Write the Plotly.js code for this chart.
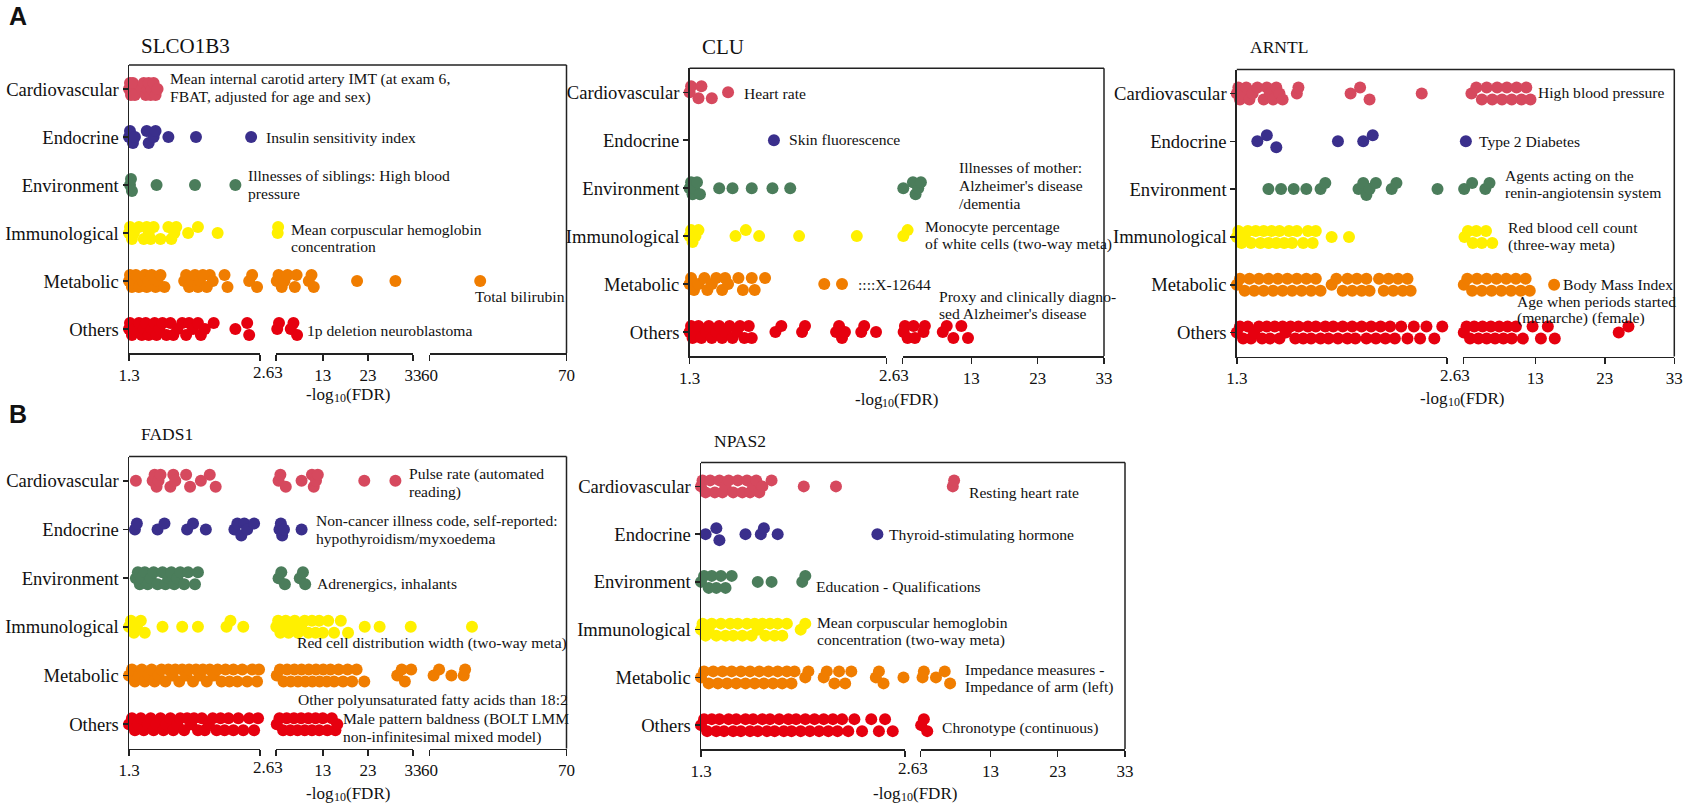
<!DOCTYPE html>
<html><head><meta charset="utf-8">
<script src="https://cdn.plot.ly/plotly-3.0.1.min.js"></script>
<style>html,body{margin:0;padding:0;background:#fff}#chart{width:1687px;height:808px}</style>
</head><body><div id="chart"></div>
<script>
// ---------- categories & colours ----------
const CATEGORIES = ['Cardiovascular','Endocrine','Environment','Immunological','Metabolic','Others'];
const CAT_COLORS = ['#d6495e','#3a2f8c','#4b7d5b','#fff000','#f07d00','#e6000f'];

// ---------- axis ticks ----------
const SEG1_TICKS = [1.3];            const SEG1_LABELS = ['1.3'];
const SEG2_TICKS = [13, 23, 33];     const SEG2_LABELS = ['13', '23', '33'];
const SEG3_TICKS = [60, 70];         const SEG3_LABELS = ['60', '70'];
const BREAK_VALUE = 2.63;
const GAP_LABEL = '2.63';
const X_TITLE_PARTS = ['-log', '10', '(FDR)'];

// ---------- SLCO1B3 ----------
const SLCO1B3_cardiovascular = [1.30,1.31,1.32,1.33,1.34,1.36,1.43,1.45,1.47,1.49,1.50,1.52,1.53,1.55,1.57,1.59];
const SLCO1B3_endocrine = [1.30,1.31,1.34,1.36,1.48,1.50,1.55,1.57,1.70,1.98,2.54];
const SLCO1B3_environment = [1.31,1.32,1.33,1.58,1.97,2.38];
const SLCO1B3_immunological = [1.30,1.31,1.33,1.35,1.40,1.45,1.48,1.50,1.52,1.55,1.62,1.70,1.73,1.76,1.78,1.90,2.00,2.20,3.0,3.1];
const SLCO1B3_metabolic = [1.30,1.31,1.33,1.35,1.37,1.40,1.44,1.46,1.48,1.50,1.53,1.57,1.59,1.62,1.66,1.86,1.88,1.91,1.94,1.97,2.00,2.02,2.05,2.09,2.12,2.15,2.27,2.30,2.52,2.55,2.60,2.8,3.2,3.9,4.5,5.2,6.8,7.2,9.9,10.5,11.0,20.6,29.1,63.7];
const SLCO1B3_others = [1.30,1.31,1.33,1.36,1.40,1.43,1.45,1.47,1.50,1.53,1.56,1.58,1.61,1.64,1.68,1.72,1.75,1.79,1.84,1.88,1.91,1.95,2.00,2.03,2.07,2.16,2.38,2.50,2.52,2.9,3.3,5.9,6.5,7.3];

// ---------- CLU ----------
const CLU_cardiovascular = [1.30,1.31,1.36,1.38,1.45,1.56];
const CLU_endocrine = [1.87];
const CLU_environment = [1.30,1.31,1.32,1.33,1.35,1.37,1.50,1.59,1.72,1.86,1.98,2.75,4.2,4.6,5.0,5.4];
const CLU_immunological = [1.30,1.31,1.32,1.34,1.36,1.61,1.68,1.77,2.04,2.43,2.75,3.4];
const CLU_metabolic = [1.30,1.31,1.33,1.36,1.40,1.42,1.45,1.48,1.52,1.54,1.56,1.63,1.66,1.72,1.74,1.81,2.21,2.33];
const CLU_others = [1.30,1.31,1.32,1.34,1.36,1.38,1.41,1.43,1.45,1.48,1.50,1.52,1.54,1.57,1.59,1.62,1.64,1.67,1.70,1.72,1.88,1.92,2.06,2.08,2.29,2.31,2.33,2.35,2.46,2.48,2.56,2.8,3.0,3.4,4.3,4.5,5.8,6.0,8.7,9.3,10.3,11.5,12.5];

// ---------- ARNTL ----------
const ARNTL_cardiovascular = [1.30,1.31,1.32,1.34,1.36,1.38,1.40,1.43,1.47,1.49,1.51,1.53,1.55,1.57,1.59,1.68,1.69,2.02,2.08,2.14,2.47,3.8,4.5,5.3,6.0,6.8,7.5,8.2,8.9,9.6,10.3,11.0,11.7,12.3];
const ARNTL_endocrine = [1.43,1.49,1.55,1.94,2.10,2.16,3.0];
const ARNTL_environment = [1.50,1.58,1.66,1.74,1.83,1.86,2.07,2.10,2.12,2.14,2.18,2.28,2.31,2.57,2.75,3.9,5.8,6.4];
const ARNTL_immunological = [1.30,1.31,1.33,1.35,1.37,1.39,1.42,1.45,1.47,1.50,1.52,1.55,1.57,1.60,1.63,1.65,1.68,1.72,1.75,1.78,1.80,1.90,2.01,2.8,3.3,4.0,4.5,5.3,5.9,6.8];
const ARNTL_metabolic = [1.30,1.32,1.35,1.38,1.41,1.44,1.47,1.50,1.53,1.56,1.59,1.62,1.65,1.68,1.71,1.74,1.77,1.80,1.83,1.90,1.93,1.97,2.00,2.03,2.06,2.09,2.12,2.14,2.20,2.23,2.26,2.29,2.32,2.35,2.38,2.40,2.7,3.2,3.9,4.6,5.3,6.0,6.7,7.4,8.1,8.8,9.5,10.2,10.9,11.6,12.2,15.7];
const ARNTL_others = [1.30,1.32,1.34,1.37,1.39,1.41,1.44,1.46,1.49,1.51,1.54,1.57,1.59,1.61,1.64,1.67,1.69,1.72,1.75,1.77,1.80,1.83,1.86,1.88,1.91,1.94,1.97,2.00,2.03,2.05,2.09,2.12,2.15,2.18,2.21,2.24,2.27,2.30,2.34,2.38,2.42,2.46,2.50,2.55,2.60,2.7,3.1,3.6,4.2,4.8,5.4,6.0,6.6,7.2,7.8,8.4,9.0,9.6,10.2,11.2,12.6,13.8,14.8,15.8,25.0,26.4];

// ---------- FADS1 ----------
const FADS1_cardiovascular = [1.37,1.54,1.56,1.58,1.60,1.62,1.72,1.75,1.77,1.88,1.92,2.03,2.12,2.18,3.2,3.6,4.8,8.3,10.6,11.0,11.5,11.9,22.2,29.1];
const FADS1_endocrine = [1.36,1.38,1.59,1.66,1.89,1.95,2.08,2.37,2.40,2.44,2.47,2.50,2.57,3.4,3.7,4.0,4.4,8.3];
const FADS1_environment = [1.37,1.39,1.41,1.43,1.46,1.49,1.52,1.55,1.59,1.64,1.67,1.70,1.73,1.76,1.79,1.82,1.86,1.90,1.97,2.00,3.2,3.8,4.6,7.9,8.6,9.1];
const FADS1_immunological = [1.30,1.32,1.35,1.38,1.42,1.46,1.64,1.84,2.00,2.29,2.33,2.46,2.7,3.1,3.6,4.2,4.8,5.4,6.0,6.8,7.5,8.2,9.0,9.8,10.6,11.4,12.2,13.0,14.2,15.5,17.0,18.6,22.3,25.6,32.5,63.1];
const FADS1_metabolic = [1.30,1.33,1.36,1.40,1.43,1.46,1.50,1.53,1.56,1.60,1.63,1.67,1.70,1.74,1.77,1.81,1.84,1.88,1.91,1.95,1.98,2.02,2.05,2.09,2.12,2.16,2.20,2.24,2.28,2.32,2.36,2.40,2.45,2.50,2.55,2.60,2.62,2.8,3.5,4.3,5.1,5.9,6.7,7.5,8.3,9.1,9.9,10.7,11.5,12.3,13.1,13.9,14.7,15.5,16.5,17.5,18.5,19.5,20.5,22.2,29.5,30.5,31.2,32.6,60.3,60.7,61.6,62.5,62.6];
const FADS1_others = [1.30,1.33,1.36,1.39,1.42,1.45,1.49,1.52,1.55,1.58,1.62,1.65,1.68,1.72,1.75,1.79,1.82,1.86,1.89,1.93,1.96,2.00,2.04,2.07,2.11,2.15,2.19,2.23,2.27,2.31,2.36,2.41,2.46,2.52,2.57,2.61,2.8,3.4,4.2,5.0,5.8,6.6,7.4,8.2,9.0,9.8,10.6,11.4,12.2,13.0,14.0,15.0,15.8,16.2];

// ---------- NPAS2 ----------
const NPAS2_cardiovascular = [1.30,1.31,1.33,1.36,1.39,1.42,1.44,1.46,1.48,1.51,1.54,1.57,1.60,1.62,1.64,1.66,1.68,1.70,1.76,1.97,2.18,7.4,7.6];
const NPAS2_endocrine = [1.33,1.40,1.42,1.59,1.69,1.71,1.80,2.45];
const NPAS2_environment = [1.30,1.32,1.35,1.37,1.40,1.43,1.46,1.50,1.67,1.76,1.96,1.98];
const NPAS2_immunological = [1.30,1.31,1.33,1.35,1.37,1.40,1.43,1.46,1.49,1.51,1.54,1.57,1.60,1.63,1.65,1.67,1.70,1.72,1.75,1.78,1.80,1.83,1.86,1.95,1.98];
const NPAS2_metabolic = [1.30,1.32,1.35,1.38,1.41,1.44,1.47,1.50,1.53,1.56,1.59,1.62,1.65,1.68,1.71,1.74,1.77,1.80,1.83,1.86,1.89,1.91,1.98,2.00,2.10,2.12,2.17,2.20,2.24,2.28,2.44,2.46,2.49,2.62,2.9,3.1,4.9,6.2,7.0];
const NPAS2_others = [1.30,1.32,1.34,1.37,1.40,1.42,1.45,1.48,1.51,1.53,1.56,1.59,1.62,1.64,1.67,1.70,1.73,1.75,1.78,1.81,1.84,1.87,1.89,1.92,1.95,1.98,2.01,2.04,2.07,2.10,2.13,2.16,2.19,2.22,2.26,2.30,2.35,2.41,2.46,2.50,2.55,2.7,3.1,3.6];

// ---------- layout config (pixel geometry of each panel) ----------
const W = 1687, H = 808;
const SERIF = '"Liberation Serif", "Times New Roman", Times, serif';
const SEG1 = {range:[1.3,2.63], tickvals:SEG1_TICKS, ticktext:SEG1_LABELS, minor:[BREAK_VALUE]};
const SEG2 = {range:[2.63,33], tickvals:SEG2_TICKS, ticktext:SEG2_LABELS, minor:[BREAK_VALUE]};
const SEG3 = {range:[60,70], tickvals:SEG3_TICKS, ticktext:SEG3_LABELS, minor:[]};

const PANELS = [
  {gene:'SLCO1B3', series:[SLCO1B3_cardiovascular,SLCO1B3_endocrine,SLCO1B3_environment,SLCO1B3_immunological,SLCO1B3_metabolic,SLCO1B3_others],
   top:65, bottom:353, segs:[[129,260,SEG1],[276,413,SEG2],[429.5,566.5,SEG3]],
   title:[139,46,21], xtitle:[346,394],
   notes:[['Mean internal carotid artery IMT (at exam 6,',168,79],['FBAT, adjusted for age and sex)',168,96.7],
          ['Insulin sensitivity index',263.6,137.7],['Illnesses of siblings: High blood',246.4,175.7],['pressure',246.4,193.3],
          ['Mean corpuscular hemoglobin',289.3,229.3],['concentration',289.3,246.7],['Total bilirubin',473,296],
          ['1p deletion neuroblastoma',305.4,330.7]]},
  {gene:'CLU', series:[CLU_cardiovascular,CLU_endocrine,CLU_environment,CLU_immunological,CLU_metabolic,CLU_others],
   top:68.3, bottom:356, segs:[[689.6,886.4,SEG1],[902.5,1104,SEG2]],
   title:[700,46.7,21], xtitle:[894.5,399],
   notes:[['Heart rate',742,93.3],['Skin fluorescence',787,140],['Illnesses of mother:',957,167.7],["Alzheimer's disease",957,185.7],
          ['/dementia',957,203.3],['Monocyte percentage',923,226.7],['of white cells (two-way meta)',923,244.3],
          ['::::X-12644',855.7,284.3],['Proxy and clinically diagno-',937,296.7],["sed Alzheimer's disease",937,313.3]]},
  {gene:'ARNTL', series:[ARNTL_cardiovascular,ARNTL_endocrine,ARNTL_environment,ARNTL_immunological,ARNTL_metabolic,ARNTL_others],
   top:69.5, bottom:356.5, segs:[[1236.8,1447,SEG1],[1463.3,1674.3,SEG2]],
   title:[1248,46.7,17.5], xtitle:[1460,398],
   notes:[['High blood pressure',1536,92.7],['Type 2 Diabetes',1477,141],['Agents acting on the',1503,175.7],
          ['renin-angiotensin system',1503,192.7],['Red blood cell count',1506,227.3],['(three-way meta)',1506,245],
          ['Body Mass Index',1561,284],['Age when periods started',1515,301.7],['(menarche) (female)',1515,318.3]]},
  {gene:'FADS1', series:[FADS1_cardiovascular,FADS1_endocrine,FADS1_environment,FADS1_immunological,FADS1_metabolic,FADS1_others],
   top:456.5, bottom:748.5, segs:[[129,260,SEG1],[276,413,SEG2],[429.5,566.5,SEG3]],
   title:[139,434.3,17.5], xtitle:[346,793],
   notes:[['Pulse rate (automated',407,474],['reading)',407,491.7],['Non-cancer illness code, self-reported:',314,520],
          ['hypothyroidism/myxoedema',314,538.3],['Adrenergics, inhalants',315,583.3],['Red cell distribution width (two-way meta)',294.6,643.3],
          ['Other polyunsaturated fatty acids than 18:2',295.7,699],['Male pattern baldness (BOLT LMM',341,719],
          ['non-infinitesimal mixed model)',341,736.7]]},
  {gene:'NPAS2', series:[NPAS2_cardiovascular,NPAS2_endocrine,NPAS2_environment,NPAS2_immunological,NPAS2_metabolic,NPAS2_others],
   top:462.5, bottom:749, segs:[[701,905,SEG1],[920.7,1125,SEG2]],
   title:[712,441,17.5], xtitle:[913,793],
   notes:[['Resting heart rate',967,492.3],['Thyroid-stimulating hormone',886.8,534.7],['Education - Qualifications',814,586.7],
          ['Mean corpuscular hemoglobin',815,622.3],['concentration (two-way meta)',815,640],['Impedance measures -',963,669],
          ['Impedance of arm (left)',963,686.7],['Chronotype (continuous)',940,727.7]]}
];

const PANEL_LETTERS = [['A',7,16.5],['B',7,414]];

// ---------- helpers ----------
const fx = p => p / W;
const fy = p => 1 - p / H;
const AX = '#222';
const DOT = 12;

// simple beeswarm dodge (pixel space) so overlapping dots stack vertically
function dodge(pxs) {
  const OFF = [0, -6, 6], D = DOT;
  const placed = [], out = new Array(pxs.length);
  const order = pxs.map((_, i) => i).sort((a, b) => pxs[a] - pxs[b]);
  order.forEach(i => {
    let best = 0, bestD = -1;
    for (const o of OFF) {
      let md = Infinity;
      for (const q of placed) {
        const dx = q.x - pxs[i];
        if (Math.abs(dx) > D) continue;
        md = Math.min(md, Math.hypot(dx, q.y - o));
      }
      if (md >= D) { best = o; bestD = md; break; }
      if (md > bestD) { bestD = md; best = o; }
    }
    placed.push({x: pxs[i], y: best});
    out[i] = best;
  });
  return out;
}

const traces = [];
const layout = {
  width: W, height: H, margin: {l:0, r:0, t:0, b:0},
  paper_bgcolor: '#fff', plot_bgcolor: 'rgba(0,0,0,0)', showlegend: false,
  font: {family: SERIF, color: '#111'},
  annotations: [], shapes: []
};

function note(text, x, y, size, anchor, family) {
  layout.annotations.push({text: text, xref:'paper', yref:'paper', x: fx(x), y: fy(y),
    xanchor: anchor || 'left', yanchor:'middle', showarrow:false,
    font:{family: family || SERIF, size: size, color:'#111'}});
}

let xi = 0;
PANELS.forEach((P, pi) => {
  const yId = pi === 0 ? 'y' : 'y' + (pi + 1);
  const yKey = pi === 0 ? 'yaxis' : 'yaxis' + (pi + 1);
  const xIds = [];
  P.segs.forEach(([a, b, S]) => {
    xi++;
    const xId = xi === 1 ? 'x' : 'x' + xi;
    const xKey = xi === 1 ? 'xaxis' : 'xaxis' + xi;
    xIds.push(xId);
    layout[xKey] = {
      domain: [fx(a), fx(b)], range: S.range, anchor: yId,
      showline: true, linecolor: AX, linewidth: 1.5,
      ticks: 'outside', ticklen: 6, tickwidth: 1.5, tickcolor: AX,
      tickmode: 'array', tickvals: S.tickvals, ticktext: S.ticktext,
      minor: {tickmode: 'array', tickvals: S.minor, ticks: 'outside', ticklen: 6, tickwidth: 1.5, tickcolor: AX, showgrid: false},
      showgrid: false, zeroline: false, fixedrange: true,
      tickfont: {family: SERIF, size: 17, color: '#111'}
    };
  });
  const leftPx = P.segs[0][0], rightPx = P.segs[P.segs.length - 1][1];
  layout[yKey] = {
    domain: [fy(P.bottom), fy(P.top)], anchor: xIds[0], range: [5.5, -0.5],
    tickmode: 'array', tickvals: CATEGORIES.map((_, i) => i), ticktext: CATEGORIES,
    showline: true, linecolor: AX, linewidth: 1.5,
    ticks: 'outside', ticklen: 5, tickwidth: 1.5, tickcolor: AX,
    showgrid: false, zeroline: false, fixedrange: true,
    tickfont: {family: SERIF, size: 18.6, color: '#111'}
  };
  // frame: top and right
  layout.shapes.push({type:'line', xref:'paper', yref:'paper', x0:fx(leftPx), x1:fx(rightPx), y0:fy(P.top), y1:fy(P.top), line:{color:AX, width:1.5}});
  layout.shapes.push({type:'line', xref:'paper', yref:'paper', x0:fx(rightPx), x1:fx(rightPx), y0:fy(P.top), y1:fy(P.bottom), line:{color:AX, width:1.5}});

  const rowPx = (P.bottom - P.top) / 6;
  P.series.forEach((vals, ci) => {
    const segOf = vals.map(v => P.segs.findIndex(([a, b, S]) => v >= S.range[0] - 1e-9 && v <= S.range[1] + 1e-9));
    const pxs = vals.map((v, i) => {
      const [a, b, S] = P.segs[segOf[i]];
      return a + (v - S.range[0]) / (S.range[1] - S.range[0]) * (b - a);
    });
    const off = dodge(pxs);
    P.segs.forEach((seg, si) => {
      const idx = vals.map((_, i) => i).filter(i => segOf[i] === si);
      if (!idx.length) return;
      traces.push({
        type: 'scatter', mode: 'markers', name: P.gene + ' ' + CATEGORIES[ci],
        xaxis: xIds[si], yaxis: yId,
        x: idx.map(i => vals[i]),
        y: idx.map(i => ci + off[i] / rowPx),
        cliponaxis: false,
        marker: {size: DOT, color: CAT_COLORS[ci], line: {width: 0}},
        hovertemplate: CATEGORIES[ci] + ': %{x}<extra>' + P.gene + '</extra>'
      });
    });
  });

  // gene title
  note(P.gene, P.title[0], P.title[1], P.title[2]);
  // x axis title: "-log" + subscript "10" + "(FDR)" (pieces laid side by side)
  const w1 = 27.4, w2 = 12, w3 = 44.4;
  const x0 = P.xtitle[0] - (w1 + w2 + w3) / 2;
  note(X_TITLE_PARTS[0], x0, P.xtitle[1], 17);
  note(X_TITLE_PARTS[1], x0 + w1, P.xtitle[1] + 4, 12);
  note(X_TITLE_PARTS[2], x0 + w1 + w2, P.xtitle[1], 17);
  // break label
  const gapC = (P.segs[0][1] + P.segs[1][0]) / 2;
  note(GAP_LABEL, gapC, P.bottom + 19, 17, 'center');
  // trait notes
  P.notes.forEach(([t, x, y]) => note(t, x, y, 15.6));
});

PANEL_LETTERS.forEach(([t, x, y]) => note('<b>' + t + '</b>', x, y, 25, 'left', '"Liberation Sans", Arial, sans-serif'));

Plotly.newPlot('chart', traces, layout, {displayModeBar: false, staticPlot: true});
</script></body></html>
